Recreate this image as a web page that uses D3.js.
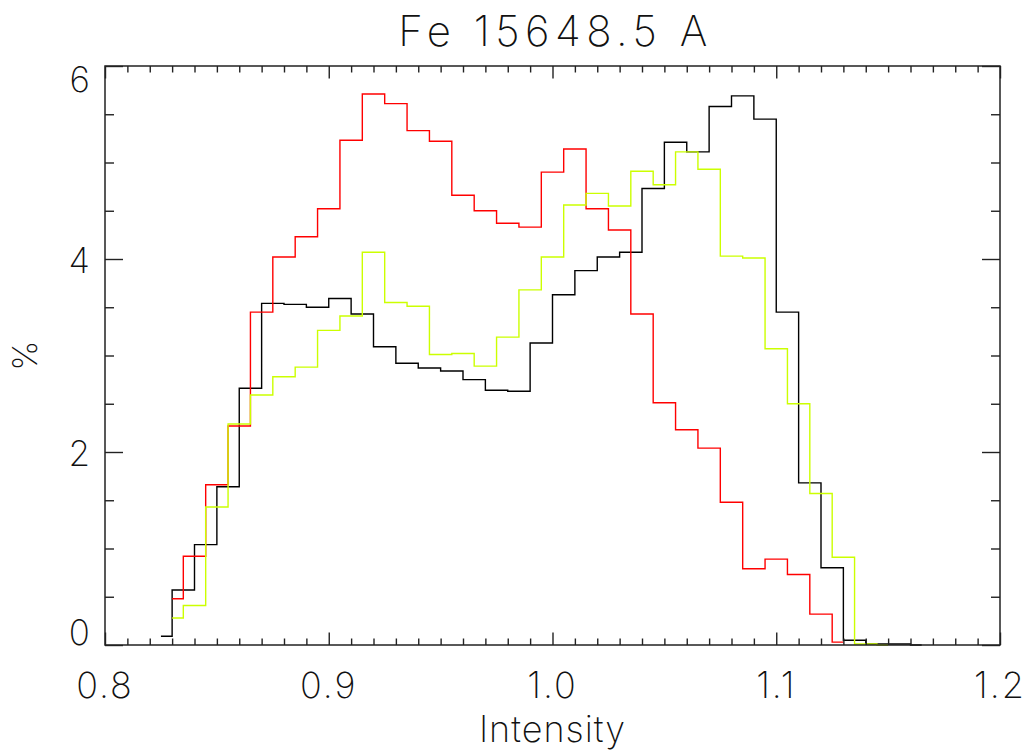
<!DOCTYPE html>
<html>
<head>
<meta charset="utf-8">
<script src="https://cdn.jsdelivr.net/npm/d3@7"></script>
<style>
  html, body { margin: 0; padding: 0; background: #fff; }
  svg { display: block; }
  text { font-family: "Inter", "DejaVu Sans", sans-serif; font-weight: 200; fill: #111; -webkit-font-smoothing: antialiased; }
</style>
</head>
<body>
<svg id="chart" width="1030" height="751"></svg>
<script>
// ---- data ----
const title = "Fe 15648.5 A";
const xTitle = "Intensity";
const yTitle = "%";
const xTickLabels = ["0.8", "0.9", "1.0", "1.1", "1.2"];
const xTickValues = [0.8, 0.9, 1.0, 1.1, 1.2];
const yTickLabels = ["0", "2", "4", "6"];
const yTickValues = [0, 2, 4, 6];

const binWidth = 0.01;

const blackX = [0.825, 0.835, 0.845, 0.855, 0.865, 0.875, 0.885, 0.895, 0.905, 0.915,
                0.925, 0.935, 0.945, 0.955, 0.965, 0.975, 0.985, 0.995, 1.005, 1.015,
                1.025, 1.035, 1.045, 1.055, 1.065, 1.075, 1.085, 1.095, 1.105, 1.115,
                1.125, 1.135, 1.145, 1.155, 1.165];
const blackY = [0.09, 0.57, 1.04, 1.64, 2.66, 3.54, 3.53, 3.50, 3.59, 3.43,
                3.09, 2.92, 2.87, 2.84, 2.75, 2.64, 2.63, 3.13, 3.63, 3.88,
                4.02, 4.07, 4.73, 5.21, 5.11, 5.58, 5.69, 5.45, 3.45, 1.68,
                0.80, 0.05, 0.01, 0.01, 0.0];

const redX = [0.830, 0.840, 0.850, 0.860, 0.870, 0.880, 0.890, 0.900, 0.910, 0.920,
              0.930, 0.940, 0.950, 0.960, 0.970, 0.980, 0.990, 1.000, 1.010, 1.020,
              1.030, 1.040, 1.050, 1.060, 1.070, 1.080, 1.090, 1.100, 1.110, 1.120,
              1.130];
const redY = [0.48, 0.92, 1.66, 2.27, 3.45, 4.02, 4.23, 4.52, 5.23, 5.71,
              5.61, 5.33, 5.22, 4.66, 4.50, 4.37, 4.33, 4.90, 5.14, 4.52,
              4.30, 3.43, 2.51, 2.23, 2.04, 1.48, 0.79, 0.89, 0.73, 0.32,
              0.03];

const yellowX = [0.830, 0.840, 0.850, 0.860, 0.870, 0.880, 0.890, 0.900, 0.910, 0.920,
                 0.930, 0.940, 0.950, 0.960, 0.970, 0.980, 0.990, 1.000, 1.010, 1.020,
                 1.030, 1.040, 1.050, 1.060, 1.070, 1.080, 1.090, 1.100, 1.110, 1.120,
                 1.130, 1.140, 1.150];
const yellowY = [0.28, 0.41, 1.43, 2.29, 2.59, 2.78, 2.88, 3.26, 3.41, 4.07,
                 3.55, 3.51, 3.01, 3.02, 2.89, 3.19, 3.68, 4.02, 4.56, 4.68,
                 4.55, 4.91, 4.77, 5.11, 4.93, 4.03, 4.01, 3.07, 2.50, 1.57,
                 0.91, 0.01, 0.0];

const seriesList = [
  { xs: blackX, ys: blackY, color: "#000000" },
  { xs: redX, ys: redY, color: "#ff0000" },
  { xs: yellowX, ys: yellowY, color: "#ccff00" }
];

// ---- layout ----
const svg = d3.select("#chart");
const margin = { left: 105, right: 30, top: 66, bottom: 106 };
const W = 1030, H = 751;
const x = d3.scaleLinear().domain([0.8, 1.2]).range([margin.left, W - margin.right]);
const y = d3.scaleLinear().domain([0, 6]).range([H - margin.bottom, margin.top]);

const axisColor = "#222";

// ---- data lines (IDL psym=10 histogram style) ----
function histPoints(xs, ys) {
  const pts = [];
  const n = xs.length;
  for (let i = 0; i < n; i++) {
    const lo = i === 0 ? xs[0] : xs[i] - binWidth / 2;
    const hi = i === n - 1 ? xs[n - 1] : xs[i] + binWidth / 2;
    pts.push([lo, ys[i]]);
    pts.push([hi, ys[i]]);
  }
  return pts;
}
const line = d3.line().x(d => x(d[0])).y(d => y(d[1]));
svg.append("g").selectAll("path").data(seriesList).join("path")
  .attr("d", s => line(histPoints(s.xs, s.ys)))
  .attr("fill", "none")
  .attr("stroke", s => s.color)
  .attr("stroke-width", 1.4)
  .attr("stroke-linejoin", "miter");

// ---- axes ----
const xMinor = d3.range(0.8, 1.2001, 0.01).filter(v => Math.abs(Math.round(v * 10) - v * 10) > 1e-6);
const yMinor = d3.range(0, 6.001, 0.5).filter(v => Math.abs(v % 2) > 1e-6);

function styleAxis(g) {
  g.select(".domain").remove();
  g.selectAll(".tick line").attr("stroke", axisColor).attr("stroke-width", 1.4);
  g.selectAll(".tick text").remove();
}
const bottomY = y(0), topY = y(6), leftX = x(0.8), rightX = x(1.2);

svg.append("g").attr("transform", `translate(0,${bottomY})`)
  .call(d3.axisBottom(x).tickValues(xTickValues).tickSize(-12.5)).call(styleAxis);
svg.append("g").attr("transform", `translate(0,${bottomY})`)
  .call(d3.axisBottom(x).tickValues(xMinor).tickSize(-6.5)).call(styleAxis);
svg.append("g").attr("transform", `translate(0,${topY})`)
  .call(d3.axisTop(x).tickValues(xTickValues).tickSize(-12.5)).call(styleAxis);
svg.append("g").attr("transform", `translate(0,${topY})`)
  .call(d3.axisTop(x).tickValues(xMinor).tickSize(-6.5)).call(styleAxis);
svg.append("g").attr("transform", `translate(${leftX},0)`)
  .call(d3.axisLeft(y).tickValues(yTickValues).tickSize(-18)).call(styleAxis);
svg.append("g").attr("transform", `translate(${leftX},0)`)
  .call(d3.axisLeft(y).tickValues(yMinor).tickSize(-9)).call(styleAxis);
svg.append("g").attr("transform", `translate(${rightX},0)`)
  .call(d3.axisRight(y).tickValues(yTickValues).tickSize(-18)).call(styleAxis);
svg.append("g").attr("transform", `translate(${rightX},0)`)
  .call(d3.axisRight(y).tickValues(yMinor).tickSize(-9)).call(styleAxis);

svg.append("rect")
  .attr("x", leftX).attr("y", topY)
  .attr("width", rightX - leftX).attr("height", bottomY - topY)
  .attr("fill", "none").attr("stroke", axisColor).attr("stroke-width", 1.5);

// ---- labels ----
svg.append("g").selectAll("text").data(xTickValues).join("text")
  .attr("x", d => x(d)).attr("y", bottomY + 53)
  .attr("text-anchor", "middle").attr("font-size", 36)
  .attr("letter-spacing", 2)
  .text((d, i) => xTickLabels[i]);

const nY = yTickValues.length;
svg.append("g").selectAll("text").data(yTickValues).join("text")
  .attr("x", leftX - 15)
  .attr("y", (d, i) => i === 0 ? y(d) : (i === nY - 1 ? y(d) + 26 : y(d) + 14))
  .attr("text-anchor", "end").attr("font-size", 35)
  .text((d, i) => yTickLabels[i]);

svg.append("text")
  .attr("x", (leftX + rightX) / 2 + 3).attr("y", 46)
  .attr("text-anchor", "middle").attr("font-size", 42)
  .attr("letter-spacing", 5.5)
  .text(title);

svg.append("text")
  .attr("x", (leftX + rightX) / 2).attr("y", 742)
  .attr("text-anchor", "middle").attr("font-size", 36)
  .attr("letter-spacing", 1)
  .text(xTitle);

svg.append("text")
  .attr("transform", `translate(37, ${(topY + bottomY) / 2}) rotate(-90)`)
  .attr("text-anchor", "middle").attr("font-size", 34)
  .text(yTitle);
</script>
</body>
</html>
